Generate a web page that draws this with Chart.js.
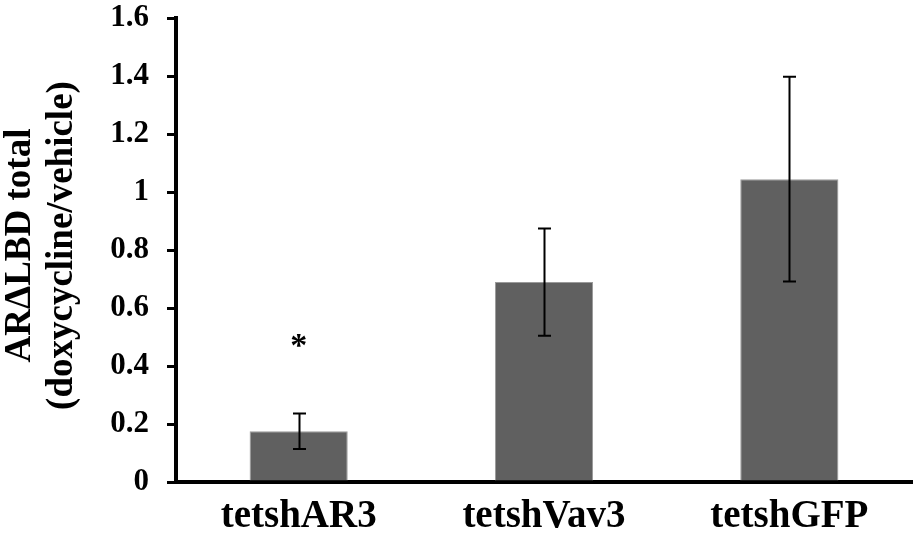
<!DOCTYPE html>
<html>
<head>
<meta charset="utf-8">
<script src="https://cdn.jsdelivr.net/npm/chart.js@4"></script>
<style>
html,body{margin:0;padding:0;background:#fff;}
#wrap{width:915px;height:544px;position:relative;}
</style>
</head>
<body>
<div id="wrap"><canvas id="c" width="915" height="544"></canvas></div>
<script>
const categories = ["tetshAR3", "tetshVav3", "tetshGFP"];
const values = [0.175, 0.69, 1.045];
const errors = [0.061, 0.185, 0.353];
const significance = ["*", "", ""];
const significanceAt = [0.465, null, null];
const yTicks = [0, 0.2, 0.4, 0.6, 0.8, 1, 1.2, 1.4, 1.6];

const FONT = "'Liberation Serif', 'Times New Roman', serif";

const errorBarPlugin = {
  id: 'errorBars',
  afterDatasetsDraw(chart) {
    const ctx = chart.ctx;
    const meta = chart.getDatasetMeta(0);
    const y = chart.scales.y;
    ctx.save();
    ctx.strokeStyle = '#000';
    ctx.lineWidth = 2;
    meta.data.forEach((bar, i) => {
      const x = Math.round(bar.x) + 0.5;
      const yTop = y.getPixelForValue(values[i] + errors[i]);
      const yBot = y.getPixelForValue(values[i] - errors[i]);
      ctx.beginPath();
      ctx.moveTo(x, yTop); ctx.lineTo(x, yBot);
      ctx.moveTo(x - 6.5, yTop); ctx.lineTo(x + 6.5, yTop);
      ctx.moveTo(x - 6.5, yBot); ctx.lineTo(x + 6.5, yBot);
      ctx.stroke();
      if (significance[i]) {
        ctx.fillStyle = '#000';
        ctx.font = "bold 34px " + FONT;
        ctx.textAlign = 'center';
        ctx.textBaseline = 'middle';
        ctx.fillText(significance[i], bar.x, y.getPixelForValue(significanceAt[i]));
      }
    });
    ctx.restore();
  }
};

new Chart(document.getElementById('c'), {
  type: 'bar',
  data: {
    labels: categories,
    datasets: [{
      data: values,
      backgroundColor: '#606060',
      borderColor: '#9a9a9a',
      borderWidth: 1,
      categoryPercentage: 1.0,
      barPercentage: 0.4
    }]
  },
  options: {
    responsive: false,
    animation: false,
    devicePixelRatio: 1,
    layout: { padding: { top: 0, right: 3, left: 0, bottom: 0 } },
    plugins: { legend: { display: false }, tooltip: { enabled: false } },
    scales: {
      x: {
        grid: { display: false, drawTicks: false },
        border: { display: true, color: '#000', width: 4 },
        ticks: {
          color: '#000',
          padding: 12,
          font: { family: FONT, size: 39, weight: 'bold' }
        },
        afterFit(scale) { scale.height = 62; }
      },
      y: {
        min: 0, max: 1.6,
        afterBuildTicks(scale) { scale.ticks = yTicks.map(v => ({ value: v })); },
        grid: { drawOnChartArea: false, drawTicks: true, tickLength: 9, color: '#000', lineWidth: 3 },
        border: { display: true, color: '#000', width: 4 },
        ticks: {
          color: '#000',
          padding: 18,
          font: { family: FONT, size: 31, weight: 'bold', lineHeight: 0.02 },
          callback: (v) => String(v)
        },
        title: {
          display: true,
          text: [" ARΔLBD total", " (doxycycline/vehicle)"],
          color: '#000',
          font: { family: FONT, size: 37, weight: 'bold', lineHeight: 1.13 },
          padding: { top: 0, bottom: 0 }
        },
        afterFit(scale) { scale.width = 176; }
      }
    }
  },
  plugins: [errorBarPlugin]
});
</script>
</body>
</html>
